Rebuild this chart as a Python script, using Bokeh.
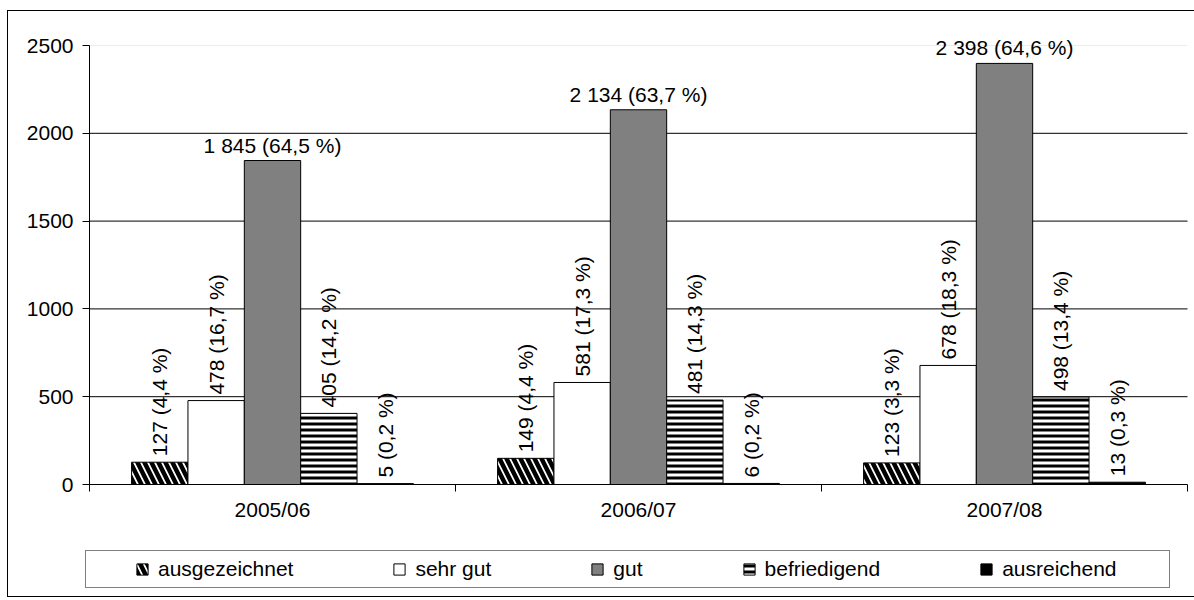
import numpy as np
from bokeh.plotting import figure
from bokeh.models import Range1d, FixedTicker, LinearAxis, Legend, LegendItem
from bokeh.core.properties import value
from bokeh.embed import file_html
from bokeh.resources import INLINE

# ---------------- data ----------------
years = ["2005/06", "2006/07", "2007/08"]
series_names = ["ausgezeichnet", "sehr gut", "gut", "befriedigend", "ausreichend"]
ausgezeichnet = [127, 149, 123]
sehr_gut = [478, 581, 678]
gut = [1845, 2134, 2398]
befriedigend = [405, 481, 498]
ausreichend = [5, 6, 13]
pct_ausgezeichnet = ["4,4", "4,4", "3,3"]
pct_sehr_gut = ["16,7", "17,3", "18,3"]
pct_gut = ["64,5", "63,7", "64,6"]
pct_befriedigend = ["14,2", "14,3", "13,4"]
pct_ausreichend = ["0,2", "0,2", "0,3"]
y_ticks = [0, 500, 1000, 1500, 2000, 2500]

series_values = [ausgezeichnet, sehr_gut, gut, befriedigend, ausreichend]
series_pcts = [pct_ausgezeichnet, pct_sehr_gut, pct_gut, pct_befriedigend, pct_ausreichend]

# ---------------- layout / styles ----------------
W, H = 1194, 600
PLOT_L, PLOT_R, PLOT_T, PLOT_B = 89, 1187, 45, 484      # pixel box of the plot area
FONT = "Liberation Sans"
FS = "21px"
BW = 0.154
ncat = len(years)
ymax = y_ticks[-1]
px_per_cat = (PLOT_R - PLOT_L) / ncat
px_per_unit = (PLOT_B - PLOT_T) / ymax
x_range = Range1d(-PLOT_L / px_per_cat, ncat + (W - PLOT_R) / px_per_cat)
y_range = Range1d(-(H - PLOT_B) / px_per_unit, ymax + PLOT_T / px_per_unit)

styles = [
    dict(fill_color="white", hatch_pattern="left_diagonal_line", hatch_color="black",
         hatch_scale=14, hatch_weight=4.5),
    dict(fill_color="white"),
    dict(fill_color="#808080"),
    dict(fill_color="white", hatch_pattern="horizontal_line", hatch_color="black",
         hatch_scale=6, hatch_weight=3),
    dict(fill_color="black"),
]

p = figure(width=W, height=H, output_backend="svg", toolbar_location=None,
           x_range=x_range, y_range=y_range, x_axis_type=None, y_axis_type=None,
           min_border=0, min_border_left=0, min_border_right=0,
           min_border_top=0, min_border_bottom=0,
           outline_line_color=None, background_fill_alpha=0, border_fill_alpha=0)
p.styles = {
    "background-color": "white",
    "background-image": "linear-gradient(#000,#000), linear-gradient(#000,#000), linear-gradient(#000,#000)",
    "background-size": "1px 587px, 1190px 1px, 1190px 1px",
    "background-position": "7px 10px, 7px 10px, 7px 596px",
    "background-repeat": "no-repeat",
}

# grid lines (drawn from tick values across the category span)
grid_y = y_ticks[1:-1]
p.segment(x0=[0] * len(grid_y), x1=[ncat] * len(grid_y), y0=grid_y, y1=grid_y,
          line_color="black", line_width=1)
p.segment(x0=[0], x1=[ncat], y0=[ymax], y1=[ymax], line_color="#ececec", line_width=1)

# y axis
yaxis = LinearAxis(ticker=FixedTicker(ticks=y_ticks, minor_ticks=[]), fixed_location=0,
                   bounds=(0, ymax),
                   axis_line_color="black", major_tick_line_color="black",
                   major_tick_out=7, major_tick_in=0, minor_tick_line_color=None,
                   major_label_standoff=9,
                   major_label_text_font=FONT, major_label_text_font_size=FS,
                   major_label_text_color="black")
p.add_layout(yaxis, "left")

# x axis: labels at category centres, tick marks at category boundaries
centers = [i + 0.5 for i in range(ncat)]
bounds = [float(i) for i in range(ncat + 1)]
xaxis = LinearAxis(ticker=FixedTicker(ticks=centers, minor_ticks=bounds), fixed_location=0,
                   bounds=(0, ncat),
                   major_label_overrides={c: y for c, y in zip(centers, years)},
                   axis_line_color="black", major_tick_line_color=None,
                   major_tick_out=0, major_tick_in=0,
                   minor_tick_line_color="black", minor_tick_out=7, minor_tick_in=0,
                   major_label_standoff=6,
                   major_label_text_font=FONT, major_label_text_font_size=FS,
                   major_label_text_color="black")
p.add_layout(xaxis, "below")

# bars + labels
renderers = []
for k, (name, vals, pcts, st) in enumerate(zip(series_names, series_values, series_pcts, styles)):
    xs = [c + (k - 2) * BW for c in centers]
    r = p.vbar(x=xs, top=vals, width=BW, line_color="black", line_width=1, **st)
    renderers.append(r)
    labels = [f"{v:,}".replace(",", " ") + f" ({pc} %)" for v, pc in zip(vals, pcts)]
    if name == "gut":
        p.text(x=xs, y=vals, text=labels, text_align="center", text_baseline="bottom",
               y_offset=-4, text_font=value(FONT), text_font_size=FS, text_color="black")
    else:
        p.text(x=xs, y=vals, text=labels, angle=np.pi / 2, text_align="left",
               text_baseline="middle", y_offset=-6,
               text_font=value(FONT), text_font_size=FS, text_color="black")

legend = Legend(items=[LegendItem(label=n, renderers=[r]) for n, r in zip(series_names, renderers)],
                orientation="horizontal", location=(85, H - 588),
                glyph_width=14, glyph_height=14, label_standoff=9, spacing=99,
                margin=0, border_line_color="black", border_line_width=1,
                background_fill_color="white", background_fill_alpha=1,
                label_text_font=FONT, label_text_font_size=FS, label_text_color="black")
try:
    legend.padding = dict(left=49, right=52, top=6, bottom=6)
except Exception:
    legend.padding = 6
    legend.location = (85 + 43, H - 588)
p.add_layout(legend)

open("out.html", "w").write(file_html(p, INLINE))
